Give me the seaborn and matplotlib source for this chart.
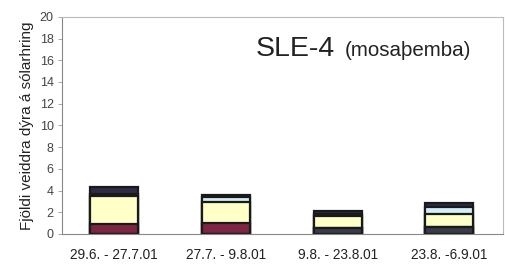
import numpy as np
import pandas as pd
import matplotlib
matplotlib.use("Agg")
import matplotlib.pyplot as plt
import seaborn as sns

periods = ["29.6. - 27.7.01", "27.7. - 9.8.01", "9.8. - 23.8.01", "23.8. -6.9.01"]
s_navy = [0.0, 0.0, 0.55, 0.65]
s_maroon = [0.9, 1.0, 0.0, 0.0]
s_yellow = [2.6, 1.95, 1.1, 1.2]
s_cyan = [0.2, 0.45, 0.2, 0.65]
s_purple = [0.6, 0.2, 0.25, 0.35]
y_ticks = [0, 2, 4, 6, 8, 10, 12, 14, 16, 18, 20]

series = [s_navy, s_maroon, s_yellow, s_cyan, s_purple]
colors = ["#3a3a48", "#7e2444", "#ffffc8", "#d4eef6", "#2e2a48"]

sns.set_style("white")
plt.rcParams["font.family"] = ["Liberation Sans", "DejaVu Sans"]

fig = plt.figure(figsize=(5.05, 2.64), dpi=100)
ax = fig.add_axes([0.123, 0.114, 0.873, 0.822])

cum = np.cumsum(np.array(series), axis=0)
for i in range(len(series) - 1, -1, -1):
    df = pd.DataFrame({"period": periods, "value": cum[i]})
    sns.barplot(data=df, x="period", y="value", color=colors[i], width=0.43,
                edgecolor="#1a1a1a", linewidth=1.6, saturation=1, ax=ax)

ax.set_ylim(0, 20)
ax.set_xlim(-0.466, 3.48)
ax.set_yticks(y_ticks)
ax.set_yticklabels([str(t) for t in y_ticks], fontsize=9, color="#444444")
ax.tick_params(axis="y", length=3, width=0.6, color="#999999", left=True, pad=3)
ax.tick_params(axis="x", length=0, labelsize=9.8, labelcolor="#222222", pad=10)
ax.set_xlabel("")
ax.set_ylabel("Fjöldi veiddra dýra á sólarhring", fontsize=11, color="#222222", labelpad=4)
for side in ["left", "top", "right", "bottom"]:
    ax.spines[side].set_visible(True)
    ax.spines[side].set_color("#bbbbbb")
    ax.spines[side].set_linewidth(0.8)
ax.spines["left"].set_color("#888888")
ax.spines["bottom"].set_color("#888888")

ax.text(0.44, 0.85, "SLE-4", transform=ax.transAxes, fontsize=20.5, color="#222222",
        va="center", ha="left")
ax.text(0.64, 0.845, "(mosaþemba)", transform=ax.transAxes, fontsize=14.8, color="#222222",
        va="center", ha="left")

fig.savefig("out.png", dpi=100)
